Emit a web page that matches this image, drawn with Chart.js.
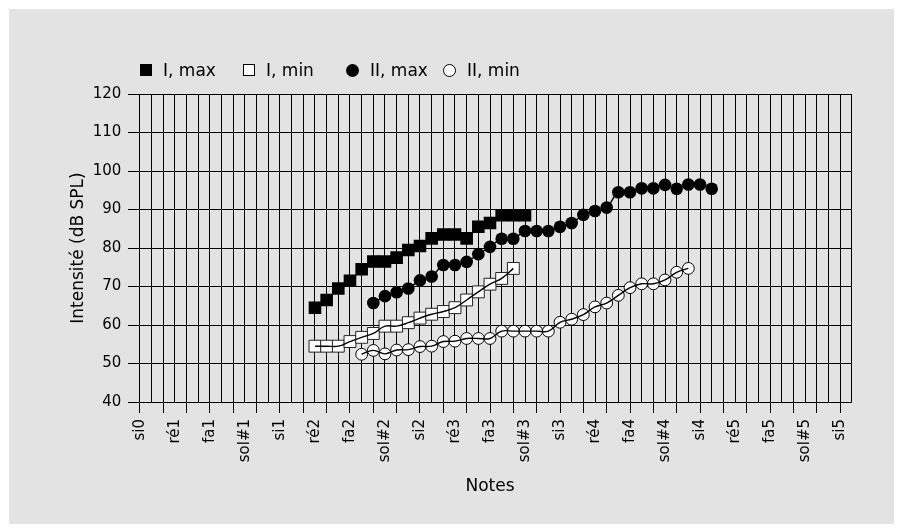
<!DOCTYPE html>
<html>
<head>
<meta charset="utf-8">
<script src="https://cdn.jsdelivr.net/npm/chart.js@4.4.1/dist/chart.umd.min.js"></script>
<style>
  html, body { margin: 0; padding: 0; background: #ffffff; }
  #wrap { position: relative; width: 902px; height: 532px; overflow: hidden; }
  #panel { position: absolute; left: 9px; top: 9px; width: 885px; height: 515px; background: #e3e3e3; }
  #chart { position: absolute; left: 0; top: 0; }
  .lg { position: absolute; top: 60px; height: 20px; display: flex; align-items: center;
        font: 17px 'DejaVu Sans', sans-serif; color: #000; white-space: nowrap; }
  .mk { display: inline-block; box-sizing: border-box; margin-right: 11px; }
</style>
</head>
<body>
<div id="wrap">
  <div id="panel"></div>
  <canvas id="chart" width="902" height="532"></canvas>
</div>
<script>
// Note names, one label every three semitones, si0 = semitone 0
const tickLabels = ['si0', 'ré1', 'fa1', 'sol#1', 'si1', 'ré2', 'fa2', 'sol#2', 'si2', 'ré3', 'fa3',
                    'sol#3', 'si3', 'ré4', 'fa4', 'sol#4', 'si4', 'ré5', 'fa5', 'sol#5', 'si5'];

// Intensities (dB SPL), one value per semitone, starting at the given semitone
const iMaxStart = 15;
const iMax = [64.5, 66.5, 69.5, 71.5, 74.5, 76.5, 76.5, 77.5, 79.5, 80.5, 82.5, 83.5, 83.5, 82.5,
              85.5, 86.5, 88.5, 88.5, 88.5];

const iMinStart = 15;
const iMin = [54.5, 54.5, 54.5, 55.7, 56.8, 57.8, 59.7, 59.7, 60.6, 61.8, 62.8, 63.5, 64.5, 66.5,
              68.6, 70.6, 72.1, 74.7];

const iiMaxStart = 20;
const iiMax = [65.7, 67.5, 68.5, 69.5, 71.6, 72.6, 75.6, 75.6, 76.4, 78.4, 80.3, 82.4, 82.4, 84.4,
               84.4, 84.4, 85.5, 86.5, 88.6, 89.6, 90.5, 94.5, 94.5, 95.5, 95.5, 96.4, 95.4, 96.5,
               96.5, 95.4];

const iiMinStart = 19;
const iiMin = [52.4, 53.4, 52.5, 53.5, 53.6, 54.4, 54.5, 55.7, 55.8, 56.5, 56.5, 56.5, 58.4, 58.4,
               58.4, 58.4, 58.4, 60.7, 61.5, 62.7, 64.7, 65.7, 67.7, 69.7, 70.7, 70.7, 71.7, 73.7,
               74.7];

const seriesNames = ['I, max', 'I, min', 'II, max', 'II, min'];

function toPoints(start, values) {
  return values.map((v, k) => ({ x: start + k, y: v }));
}

const FONT = "'DejaVu Sans', sans-serif";
Chart.defaults.font.family = FONT;
Chart.defaults.color = '#000';

const CLEAR = 'rgba(0,0,0,0)';

const datasets = [
  // smooth lines through the open markers, drawn on top of them
  { data: toPoints(iMinStart, iMin), showLine: true, borderColor: '#000', borderWidth: 1.4,
    tension: 0.4, pointRadius: 0, order: 0 },
  { data: toPoints(iiMinStart, iiMin), showLine: true, borderColor: '#000', borderWidth: 1.4,
    tension: 0.4, pointRadius: 0, order: 0 },
  // open markers
  { label: seriesNames[1], data: toPoints(iMinStart, iMin), showLine: false,
    pointStyle: 'rect', pointRadius: 8.4, backgroundColor: '#fff', borderColor: '#222',
    pointBorderWidth: 1, order: 1 },
  { label: seriesNames[3], data: toPoints(iiMinStart, iiMin), showLine: false,
    pointStyle: 'circle', pointRadius: 5.9, backgroundColor: '#fff', borderColor: '#000',
    pointBorderWidth: 1, order: 1 },
  // filled markers with their connecting line
  { label: seriesNames[0], data: toPoints(iMaxStart, iMax), showLine: true, borderColor: '#000',
    borderWidth: 1.4, tension: 0.4, pointStyle: 'rect', pointRadius: 8.9,
    backgroundColor: '#000', pointBorderWidth: 0, order: 2 },
  { label: seriesNames[2], data: toPoints(iiMaxStart, iiMax), showLine: true, borderColor: '#000',
    borderWidth: 1.4, tension: 0.4, pointStyle: 'circle', pointRadius: 6.3,
    backgroundColor: '#000', pointBorderWidth: 0, order: 2 }
];

const chart = new Chart(document.getElementById('chart'), {
  type: 'scatter',
  data: { datasets },
  options: {
    responsive: false,
    animation: false,
    devicePixelRatio: 1,
    layout: { padding: { left: 0, top: 94, right: 50.3, bottom: 0 } },
    plugins: { legend: { display: false }, tooltip: { enabled: false } },
    scales: {
      x: {
        type: 'linear',
        min: -1,
        max: 61,
        afterFit: s => { s.height = 130; },
        border: { display: false },
        grid: {
          color: c => (c.tick && c.tick.value === -1) ? CLEAR : '#000',
          lineWidth: 1,
          drawTicks: true,
          tickLength: 11,
          tickColor: c => {
            const v = c.tick ? c.tick.value : -1;
            return (v >= 0 && v <= 60 && v % 2 === 0) ? '#000' : CLEAR;
          }
        },
        ticks: {
          stepSize: 1,
          autoSkip: false,
          minRotation: 90,
          maxRotation: 90,
          padding: 6,
          font: { size: 15 },
          callback: v => (v >= 0 && v % 3 === 0) ? tickLabels[v / 3] : ''
        },
        title: {
          display: true,
          text: 'Notes',
          font: { size: 17 },
          padding: { top: 4, bottom: 35 }
        }
      },
      y: {
        min: 40,
        max: 120,
        afterFit: s => { s.width = 128.3; },
        border: { display: false },
        grid: { color: '#000', lineWidth: 1, drawTicks: false },
        ticks: { stepSize: 10, padding: 7, font: { size: 15 } },
        title: {
          display: true,
          text: 'Intensité (dB SPL)',
          font: { size: 17 },
          padding: { top: 68, bottom: 0 }
        }
      }
    }
  }
});

// Legend, built from the labelled datasets
const legendLeft = [140, 243, 346, 443];
const wrap = document.getElementById('wrap');
let n = 0;
chart.data.datasets.forEach(ds => {
  if (!ds.label) return;
  const item = document.createElement('div');
  item.className = 'lg';
  const idx = seriesNames.indexOf(ds.label);
  item.style.left = legendLeft[idx] + 'px';
  const mk = document.createElement('span');
  mk.className = 'mk';
  const isCircle = ds.pointStyle === 'circle';
  const size = isCircle ? 13 : 12;
  mk.style.width = size + 'px';
  mk.style.height = size + 'px';
  mk.style.background = ds.backgroundColor;
  mk.style.border = ds.backgroundColor === '#fff' ? '1px solid #000' : 'none';
  if (isCircle) mk.style.borderRadius = '50%';
  const tx = document.createElement('span');
  tx.textContent = ds.label;
  item.appendChild(mk);
  item.appendChild(tx);
  wrap.appendChild(item);
  n++;
});
</script>
</body>
</html>
